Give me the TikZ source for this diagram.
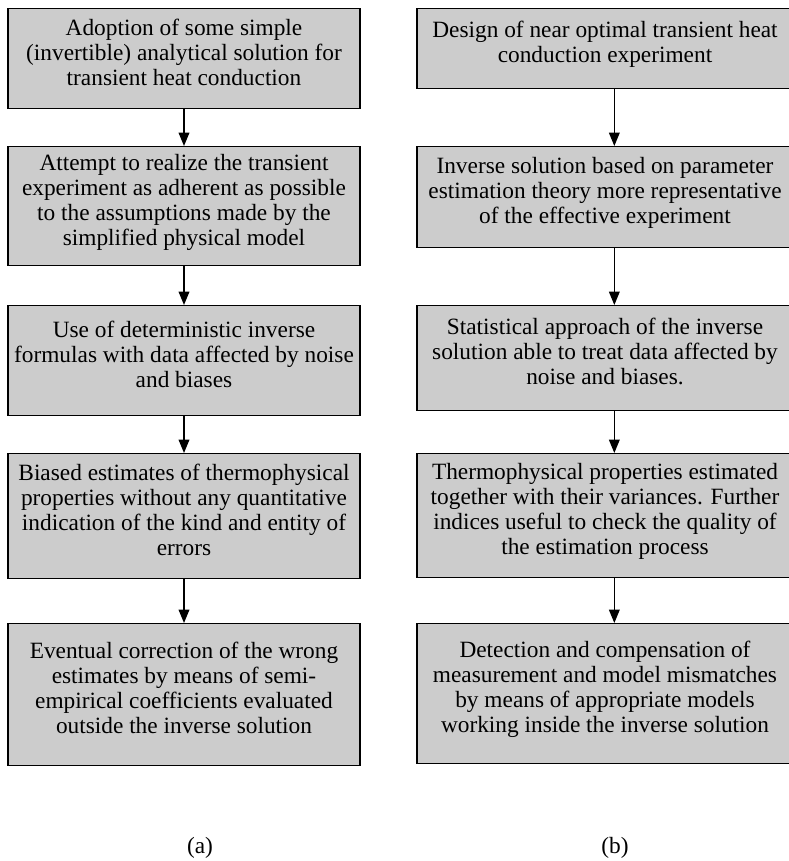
\documentclass[tikz,border=0pt]{standalone}
\usepackage{fontspec}
\setmainfont{Liberation Serif}
\usetikzlibrary{positioning,arrows.meta}

\begin{document}
\begin{tikzpicture}[x=0.75pt,y=-0.75pt,
    stage/.style={rectangle,draw=black,line width=1pt,fill=black!20,
		minimum width=264pt,align=center,text depth=10pt,
		font=\fontsize{17.5}{18.75}\selectfont,anchor=north},
    wide/.style={minimum width=282pt},
    flow/.style={line width=1pt,-{Triangle[length=10pt,width=8pt]}},
    tag/.style={font=\fontsize{17.5}{18.75}\selectfont}
]
    \clip (0,0) rectangle (789,861);
    % column (a)
    \node (a1) [stage,minimum height=75pt] at (184,8)
	     {Adoption of some simple\\(invertible) analytical solution for\\transient heat conduction};
    \node (a2) [stage,minimum height=89.25pt] at (184,146)
	     {Attempt to realize the transient\\experiment as adherent as possible\\to the assumptions made by the\\simplified physical model};
    \node (a3) [stage,minimum height=82.5pt] at (184,305)
	     {Use of deterministic inverse\\formulas with data affected by noise\\and biases};
    \node (a4) [stage,minimum height=93.75pt] at (184,453)
	     {Biased estimates of thermophysical\\properties without any quantitative\\indication of the kind and entity of\\errors};
    \node (a5) [stage,minimum height=106.5pt] at (184,623)
	     {Eventual correction of the wrong\\estimates by means of semi-\\empirical coefficients evaluated\\outside the inverse solution};
    % column (b)
    \node (b1) [stage,wide,minimum height=60pt] at (605,8)
	     {Design of near optimal transient heat\\conduction experiment};
    \node (b2) [stage,wide,minimum height=75.75pt] at (605,146)
	     {Inverse solution based on parameter\\estimation theory more representative\\of the effective experiment};
    \node (b3) [stage,wide,minimum height=78.75pt] at (605,305)
	     {Statistical approach of the inverse\\solution able to treat data affected by\\noise and biases.};
    \node (b4) [stage,wide,minimum height=93pt] at (605,453)
	     {Thermophysical properties estimated\\together with their variances. Further\\indices useful to check the quality of\\the estimation process};
    \node (b5) [stage,wide,minimum height=105pt] at (605,623)
	     {Detection and compensation of\\measurement and model mismatches\\by means of appropriate models\\working inside the inverse solution};

    \foreach \u/\v in {a1/a2,a2/a3,a3/a4,a4/a5}
	\draw[flow] (\u.south) -- (\v.north);
    \foreach \u/\v in {b1/b2,b2/b3,b3/b4,b4/b5}
	\draw[flow] ([xshift=7pt]\u.south) -- ([xshift=7pt]\v.north);

    \node (la) [tag] at (200,848) {(a)};
    \node (lb) [tag] at (615,848) {(b)};
\end{tikzpicture}
\end{document}
